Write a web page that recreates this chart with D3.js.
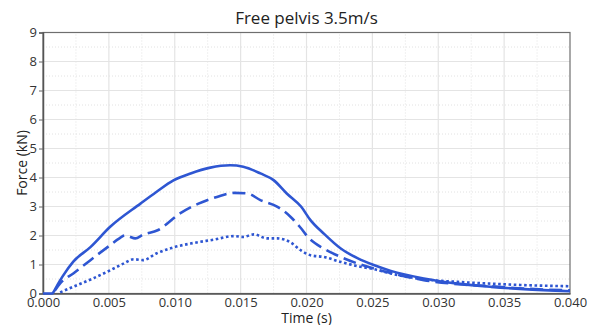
<!DOCTYPE html>
<html>
<head>
<meta charset="utf-8">
<script src="https://cdn.jsdelivr.net/npm/d3@7"></script>
<style>
  html, body { margin: 0; padding: 0; background: #fff; }
  svg { display: block; font-family: "Open Sans", "Noto Sans", sans-serif; }
</style>
</head>
<body>
<svg id="chart" width="591" height="325"></svg>
<script>
// Pelvis force traces, time in seconds, force in kN
const timeSolid = [0, 0.0007, 0.0008, 0.0011, 0.0015, 0.0023, 0.0036, 0.0051, 0.0074, 0.0086, 0.0099, 0.0112, 0.0127, 0.0142, 0.0152, 0.0165, 0.0175, 0.0185, 0.0196, 0.0203, 0.0213, 0.0226, 0.0239, 0.0251, 0.0264, 0.0289, 0.0315, 0.034, 0.0365, 0.040];
const forceSolid = [0, 0, 0.05, 0.3, 0.6, 1.1, 1.6, 2.3, 3.1, 3.5, 3.9, 4.14, 4.34, 4.42, 4.37, 4.14, 3.91, 3.45, 2.99, 2.53, 2.07, 1.55, 1.21, 0.98, 0.78, 0.52, 0.34, 0.23, 0.15, 0.08];

const timeDashed = [0.0009, 0.0013, 0.0023, 0.0036, 0.0049, 0.0058, 0.0062, 0.0065, 0.0070, 0.0076, 0.0087, 0.0104, 0.0118, 0.0132, 0.0145, 0.0155, 0.0165, 0.0178, 0.0188, 0.0196, 0.0201, 0.0213, 0.0226, 0.0239, 0.0251, 0.0264, 0.0289, 0.0315, 0.034, 0.0365, 0.040];
const forceDashed = [0.1, 0.35, 0.69, 1.15, 1.6, 1.9, 2.0, 1.97, 1.9, 2.03, 2.18, 2.76, 3.1, 3.33, 3.47, 3.45, 3.22, 2.99, 2.64, 2.24, 1.95, 1.55, 1.26, 1.03, 0.86, 0.71, 0.46, 0.32, 0.25, 0.17, 0.11];

const timeDotted = [0.0013, 0.0026, 0.0038, 0.0051, 0.0061, 0.0069, 0.0076, 0.0086, 0.0099, 0.0114, 0.013, 0.0145, 0.0152, 0.016, 0.017, 0.0178, 0.0188, 0.0196, 0.0203, 0.0213, 0.0226, 0.0239, 0.0251, 0.0264, 0.0289, 0.0315, 0.034, 0.0365, 0.040];
const forceDotted = [0.04, 0.29, 0.52, 0.8, 1.03, 1.18, 1.15, 1.38, 1.59, 1.74, 1.86, 1.98, 1.95, 2.04, 1.9, 1.9, 1.76, 1.48, 1.32, 1.26, 1.09, 0.94, 0.84, 0.69, 0.49, 0.4, 0.34, 0.29, 0.25];

const xTicks = [0, 0.005, 0.01, 0.015, 0.02, 0.025, 0.03, 0.035, 0.04];
const yTicks = [0, 1, 2, 3, 4, 5, 6, 7, 8, 9];

const titleText = "Free pelvis 3.5m/s";
const xLabel = "Time (s)";
const yLabel = "Force (kN)";

const svg = d3.select("#chart");
const margin = { left: 43, right: 21, top: 32.5, bottom: 31.5 };
const W = 591, H = 325;
const x = d3.scaleLinear().domain([0, 0.04]).range([margin.left, W - margin.right]);
const y = d3.scaleLinear().domain([0, 9]).range([H - margin.bottom, margin.top]);

const lineColor = "#2e56d2";
const fontStack = "'Open Sans', 'Noto Sans', sans-serif";

// Minor grid (dotted) at half steps
const g = svg.append("g");
const minorX = xTicks.slice(0, -1).map(d => d + 0.0025);
const minorY = yTicks.slice(0, -1).map(d => d + 0.5);
g.selectAll(".mx").data(minorX).enter().append("line")
  .attr("x1", d => x(d)).attr("x2", d => x(d))
  .attr("y1", y(0)).attr("y2", y(9))
  .attr("stroke", "#e2e2e2").attr("stroke-width", 1).attr("stroke-dasharray", "1,2");
g.selectAll(".my").data(minorY).enter().append("line")
  .attr("y1", d => y(d)).attr("y2", d => y(d))
  .attr("x1", x(0)).attr("x2", x(0.04))
  .attr("stroke", "#e2e2e2").attr("stroke-width", 1).attr("stroke-dasharray", "1,2");

// Major grid
g.selectAll(".gx").data(xTicks.slice(1, -1)).enter().append("line")
  .attr("x1", d => x(d)).attr("x2", d => x(d))
  .attr("y1", y(0)).attr("y2", y(9))
  .attr("stroke", "#e4e4e4").attr("stroke-width", 1.2);
g.selectAll(".gy").data(yTicks.slice(1, -1)).enter().append("line")
  .attr("y1", d => y(d)).attr("y2", d => y(d))
  .attr("x1", x(0)).attr("x2", x(0.04))
  .attr("stroke", "#e4e4e4").attr("stroke-width", 1.2);

// Frame
svg.append("rect")
  .attr("x", x(0)).attr("y", y(9))
  .attr("width", x(0.04) - x(0)).attr("height", y(0) - y(9))
  .attr("fill", "none").attr("stroke", "#6e6e6e").attr("stroke-width", 1.2);

// Axes
const xAxis = svg.append("g")
  .attr("transform", `translate(0,${y(0)})`)
  .call(d3.axisBottom(x).tickValues(xTicks).tickFormat(d3.format(".3f")).tickSize(0).tickPadding(4));
const yAxis = svg.append("g")
  .attr("transform", `translate(${x(0)},0)`)
  .call(d3.axisLeft(y).tickValues(yTicks).tickFormat(d3.format("d")).tickSize(4).tickPadding(2));
[xAxis, yAxis].forEach(a => {
  a.select(".domain").attr("stroke", "#555").attr("stroke-width", 1.5);
  a.selectAll(".tick line").attr("stroke", "#666");
  a.selectAll(".tick text").attr("fill", "#333").style("font-size", "13px")
    .style("font-family", fontStack);
});

// Curves
const line = d3.line().x(d => x(d[0])).y(d => y(d[1])).curve(d3.curveMonotoneX);
const zip = (a, b) => a.map((t, i) => [t, b[i]]);
const plot = svg.append("g");
plot.append("path").datum(zip(timeSolid, forceSolid))
  .attr("d", line).attr("fill", "none").attr("stroke", lineColor).attr("stroke-width", 2.6);
plot.append("path").datum(zip(timeDashed, forceDashed))
  .attr("d", line).attr("fill", "none").attr("stroke", lineColor).attr("stroke-width", 2.6)
  .attr("stroke-dasharray", "13,6");
plot.append("path").datum(zip(timeDotted, forceDotted))
  .attr("d", line).attr("fill", "none").attr("stroke", lineColor).attr("stroke-width", 2.6)
  .attr("stroke-dasharray", "2.6,2.6");

// Titles
svg.append("text").attr("x", (x(0) + x(0.04)) / 2).attr("y", 24)
  .attr("text-anchor", "middle").attr("fill", "#222").style("font-size", "17px").text(titleText);
svg.append("text").attr("x", (x(0) + x(0.04)) / 2).attr("y", 322.5)
  .attr("text-anchor", "middle").attr("fill", "#222").style("font-size", "14px").text(xLabel);
svg.append("text").attr("transform", `translate(27,${(y(0) + y(9)) / 2}) rotate(-90)`)
  .attr("text-anchor", "middle").attr("fill", "#222").style("font-size", "14px").text(yLabel);
</script>
</body>
</html>
